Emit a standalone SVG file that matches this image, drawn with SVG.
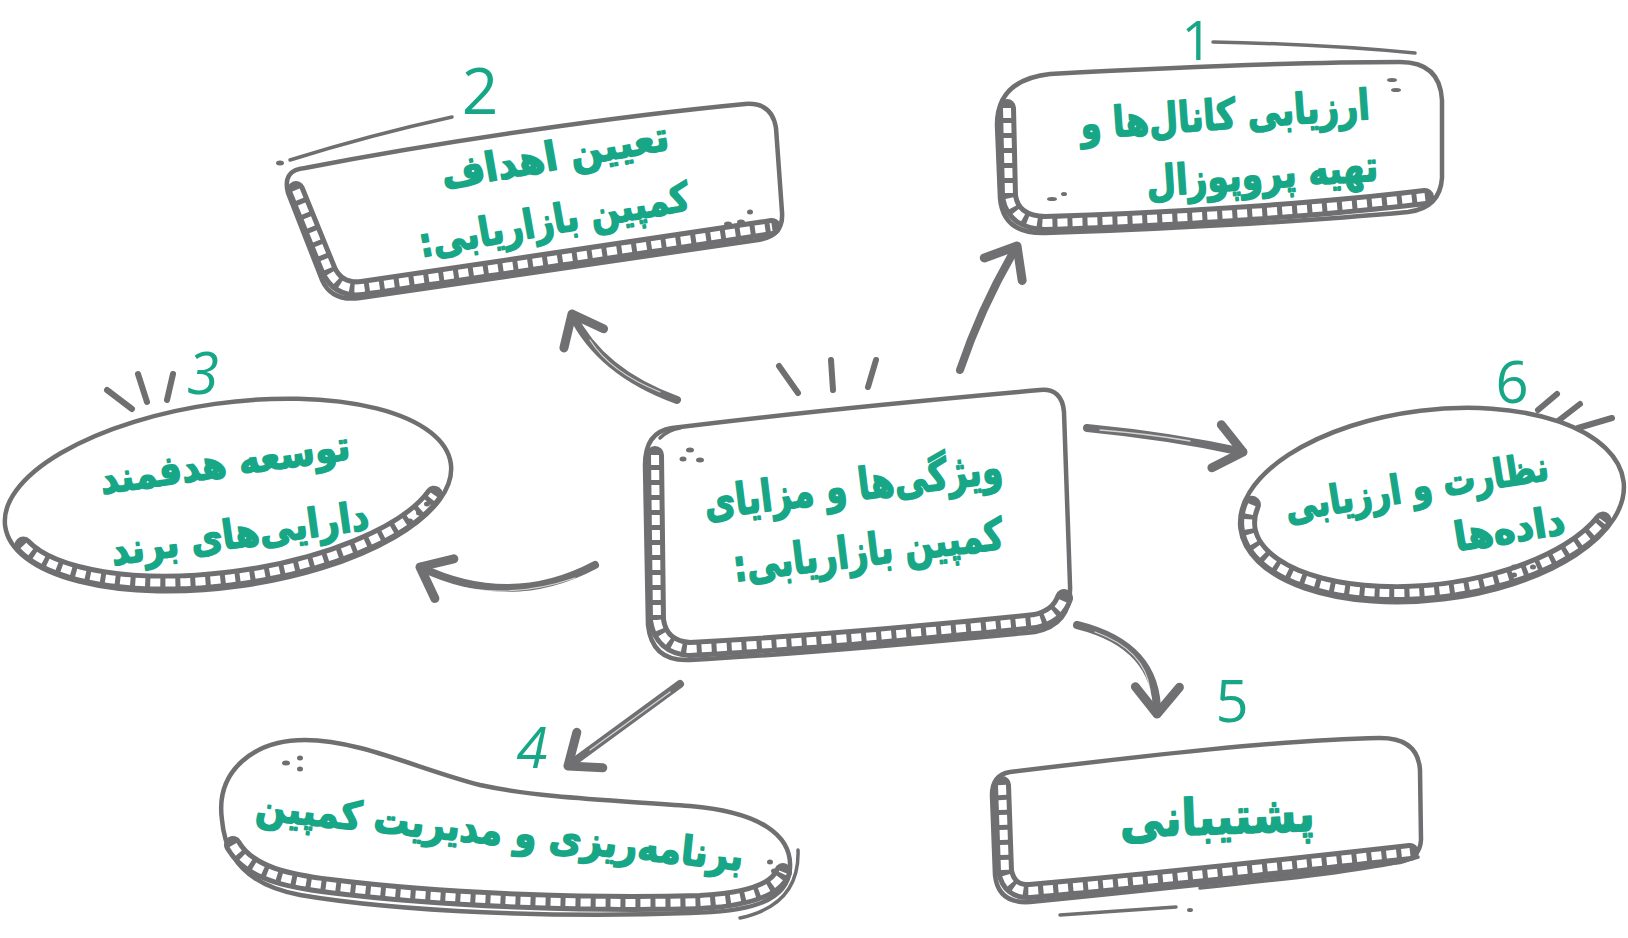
<svg xmlns="http://www.w3.org/2000/svg" width="1628" height="938" viewBox="0 0 1628 938">
<defs>
<style>
.outline{fill:#fff;stroke:#6f6f71;stroke-width:4.5;stroke-linejoin:round;stroke-linecap:round}
.band{fill:none;stroke:#6f6f71;stroke-width:18;stroke-linecap:round;stroke-linejoin:round}
.dash{fill:none;stroke:#fff;stroke-width:8;stroke-dasharray:10 5}
.sk{fill:none;stroke:#6f6f71;stroke-width:3.5;stroke-linecap:round}
.tick{fill:none;stroke:#6f6f71;stroke-width:6;stroke-linecap:round}
.dot{fill:#6f6f71}
.lbl{font-family:"DejaVu Sans",sans-serif;font-weight:bold;fill:#17a686;stroke:#17a686;stroke-width:1.6;stroke-linejoin:round;text-anchor:middle;direction:rtl}
.num{font-family:"Open Sans","DejaVu Sans",sans-serif;font-weight:400;fill:#17a686;text-anchor:middle}
.arr{fill:none;stroke:#707072;stroke-width:8;stroke-linecap:round;marker-end:url(#ah)}
.hl{fill:none;stroke:#fff;stroke-width:1.3;stroke-opacity:0.7;stroke-linecap:round}
</style>
<marker id="ah" viewBox="-40 -40 60 80" refX="0" refY="0" markerWidth="60" markerHeight="80" orient="auto" markerUnits="userSpaceOnUse">
<path d="M -27 -22 L 0 0 L -27 22" fill="none" stroke="#707072" stroke-width="9" stroke-linecap="round" stroke-linejoin="round"/>
</marker>
</defs>

<g id="connectors">
<path class="arr" d="M 677 400 Q 600 372 572 314"/>
<path class="hl" d="M 660 392 Q 610 372 590 340"/>
<path class="arr" d="M 960 370 Q 982 305 1017 246"/>
<path class="arr" d="M 1087 428 Q 1170 436 1243 452"/>
<path class="hl" d="M 1100 430 Q 1150 434 1190 441"/>
<path class="arr" d="M 1077 625 Q 1158 645 1157 714"/>
<path class="hl" d="M 1095 632 Q 1145 650 1150 690"/>
<path class="arr" d="M 595 565 Q 510 610 420 567"/>
<path class="hl" d="M 575 578 Q 510 600 450 585"/>
<path class="arr" d="M 680 684 L 568 766"/>
<path class="hl" d="M 670 692 L 590 750"/>
</g>

<g id="node-center">
<path class="tick" d="M 779 366 L 798 393 M 831 360 L 833 390 M 876 360 L 868 387"/>
<path class="outline" d="M 672 428 C 800 412 950 398 1040 390 Q 1062 388 1064 412 L 1070 585 Q 1072 625 1035 632 C 900 645 780 655 690 660 Q 652 662 648 625 L 645 465 Q 645 432 672 428 Z"/>
<path class="band" d="M 655 455 L 657 620 Q 661 647 690 649 C 780 644 900 635 1035 621 Q 1058 616 1064 598"/>
<path class="dash" d="M 655 455 L 657 620 Q 661 647 690 649 C 780 644 900 635 1035 621 Q 1058 616 1064 598"/>
<path class="sk" d="M 660 438 Q 668 430 680 428"/>
<ellipse class="dot" cx="690" cy="450" rx="4" ry="2.5"/>
<ellipse class="dot" cx="683" cy="459" rx="3.5" ry="2.5"/>
<ellipse class="dot" cx="700" cy="460" rx="4" ry="2.5"/>
<g transform="rotate(-7 860 525)">
<text class="lbl" x="858" y="500" font-size="44" textLength="300" lengthAdjust="spacingAndGlyphs">ویژگی‌ها و مزایای</text>
<text class="lbl" x="865" y="566" font-size="44" textLength="272" lengthAdjust="spacingAndGlyphs">کمپین بازاریابی:</text>
</g>
</g>

<g id="node-1">
<path class="sk" d="M 1213 42 Q 1320 44 1415 53"/>
<text class="num" x="1197" y="60" font-size="54">1</text>
<path class="outline" d="M 1050 74 C 1200 66 1320 62 1400 62 Q 1440 62 1442 100 L 1442 178 Q 1440 208 1408 212 C 1300 222 1150 230 1045 233 Q 1003 234 1000 198 L 997 125 Q 997 80 1050 74 Z"/>
<path class="band" d="M 1007 108 L 1009 196 Q 1013 222 1045 223 C 1150 220 1300 212 1425 197"/>
<path class="dash" d="M 1007 108 L 1009 196 Q 1013 222 1045 223 C 1150 220 1300 212 1425 197"/>
<ellipse class="dot" cx="1392" cy="80" rx="5" ry="2"/>
<ellipse class="dot" cx="1396" cy="90" rx="5" ry="2"/>
<ellipse class="dot" cx="1052" cy="199" rx="5" ry="2"/>
<ellipse class="dot" cx="1064" cy="194" rx="3" ry="2"/>
<g transform="rotate(-4 1240 145)">
<text class="lbl" x="1227" y="128" font-size="42" textLength="290" lengthAdjust="spacingAndGlyphs">ارزیابی کانال‌ها و</text>
<text class="lbl" x="1260" y="190" font-size="42" textLength="232" lengthAdjust="spacingAndGlyphs">تهیه پروپوزال</text>
</g>
</g>

<g id="node-2">
<path class="sk" d="M 290 160 Q 370 135 452 117"/>
<text class="num" x="480" y="114" font-size="64">2</text>
<path class="outline" d="M 305 168 C 450 140 620 116 745 104 Q 772 102 776 128 L 782 212 Q 784 236 758 240 C 600 262 450 285 360 298 Q 332 302 322 280 L 288 193 Q 282 170 305 168 Z"/>
<path class="band" d="M 296 190 L 329 271 Q 339 291 362 288 C 450 275 600 253 772 227"/>
<path class="dash" d="M 296 190 L 329 271 Q 339 291 362 288 C 450 275 600 253 772 227"/>
<ellipse class="dot" cx="280" cy="163" rx="4" ry="2.5"/>
<ellipse class="dot" cx="728" cy="224" rx="4" ry="2.5"/>
<ellipse class="dot" cx="741" cy="222" rx="4" ry="2.5"/>
<ellipse class="dot" cx="750" cy="212" rx="3" ry="2.5"/>
<g transform="rotate(-10 555 185)">
<text class="lbl" x="560" y="170" font-size="40" textLength="230" lengthAdjust="spacingAndGlyphs">تعیین اهداف</text>
<text class="lbl" x="548" y="233" font-size="40" textLength="274" lengthAdjust="spacingAndGlyphs">کمپین بازاریابی:</text>
</g>
</g>

<g id="node-3">
<path class="tick" d="M 107 390 L 132 409 M 138 374 L 147 402 M 173 374 L 167 400"/>
<text class="num" x="203" y="394" font-size="58" font-style="italic">3</text>
<ellipse class="outline" cx="228" cy="495" rx="225" ry="92" transform="rotate(-8 228 495)"/>
<path class="band" d="M 23.4 545.5 A 217 83 -8 0 0 433.9 494.7"/>
<path class="dash" d="M 23.4 545.5 A 217 83 -8 0 0 433.9 494.7"/>
<ellipse class="dot" cx="427" cy="504" rx="3" ry="2.5"/>
<ellipse class="dot" cx="419" cy="513" rx="3" ry="2.5"/>
<ellipse class="dot" cx="410" cy="521" rx="3" ry="2.5"/>
<g transform="rotate(-8 232 500)">
<text class="lbl" x="230" y="476" font-size="40" textLength="252" lengthAdjust="spacingAndGlyphs">توسعه هدفمند</text>
<text class="lbl" x="235" y="548" font-size="40" textLength="260" lengthAdjust="spacingAndGlyphs">دارایی‌های برند</text>
</g>
</g>

<g id="node-4">
<text class="num" x="532" y="768" font-size="56" font-style="italic">4</text>
<path class="outline" d="M 222 820 C 215 770 255 740 305 740 C 360 740 420 770 480 785 C 540 798 610 800 690 806 C 760 812 792 835 790 868 C 788 905 740 912 690 913 C 560 918 400 912 300 895 C 245 885 225 855 222 820 Z"/>
<path class="band" d="M 233 845 C 250 874 290 881 330 886 C 450 901 600 905 700 902 C 755 899 777 887 783 872"/>
<path class="dash" d="M 233 845 C 250 874 290 881 330 886 C 450 901 600 905 700 902 C 755 899 777 887 783 872"/>
<path class="sk" d="M 798 850 Q 800 905 740 918"/>
<ellipse class="dot" cx="286" cy="763" rx="4" ry="2.5"/>
<ellipse class="dot" cx="300" cy="758" rx="3" ry="2.5"/>
<ellipse class="dot" cx="300" cy="769" rx="3" ry="2.5"/>
<ellipse class="dot" cx="770" cy="862" rx="3" ry="2.5"/>
<ellipse class="dot" cx="774" cy="871" rx="3" ry="2.5"/>
<g transform="rotate(6 500 830)">
<text class="lbl" x="500" y="845" font-size="40" textLength="490" lengthAdjust="spacingAndGlyphs">برنامه‌ریزی و مدیریت کمپین</text>
</g>
</g>

<g id="node-5">
<text class="num" x="1232" y="722" font-size="58">5</text>
<path class="outline" d="M 1010 772 C 1150 755 1280 740 1380 738 Q 1418 738 1420 770 L 1421 840 Q 1420 858 1400 862 C 1250 880 1100 895 1030 902 Q 998 904 995 875 L 992 795 Q 992 775 1010 772 Z"/>
<path class="band" d="M 1002 785 L 1005 871 Q 1009 892 1030 891 C 1100 885 1250 870 1410 852"/>
<path class="dash" d="M 1002 785 L 1005 871 Q 1009 892 1030 891 C 1100 885 1250 870 1410 852"/>
<path class="sk" d="M 1418 857 Q 1380 870 1200 888 M 1176 907 L 1060 915"/>
<ellipse class="dot" cx="1190" cy="910" rx="3" ry="2"/>
<g transform="rotate(-2 1217 815)">
<text class="lbl" x="1217" y="834" font-size="50" textLength="195" lengthAdjust="spacingAndGlyphs">پشتیبانی</text>
</g>
</g>

<g id="node-6">
<text class="num" x="1512" y="403" font-size="58">6</text>
<path class="tick" d="M 1538 410 L 1557 394 M 1558 421 L 1580 404 M 1578 428 L 1612 418"/>
<ellipse class="outline" cx="1432" cy="505" rx="193" ry="95" transform="rotate(-7 1432 505)"/>
<path class="band" d="M 1251.9 504.7 A 185 86 -7 0 0 1602.8 520.6"/>
<path class="dash" d="M 1251.9 504.7 A 185 86 -7 0 0 1602.8 520.6"/>
<ellipse class="dot" cx="1514" cy="567" rx="3" ry="2.5"/>
<ellipse class="dot" cx="1533" cy="567" rx="3" ry="2.5"/>
<ellipse class="dot" cx="1514" cy="575" rx="3" ry="2.5"/>
<g transform="rotate(-9 1460 505)">
<text class="lbl" x="1420" y="494" font-size="40" textLength="266" lengthAdjust="spacingAndGlyphs">نظارت و ارزیابی</text>
<text class="lbl" x="1505" y="550" font-size="40" textLength="112" lengthAdjust="spacingAndGlyphs">داده‌ها</text>
</g>
</g>
</svg>
